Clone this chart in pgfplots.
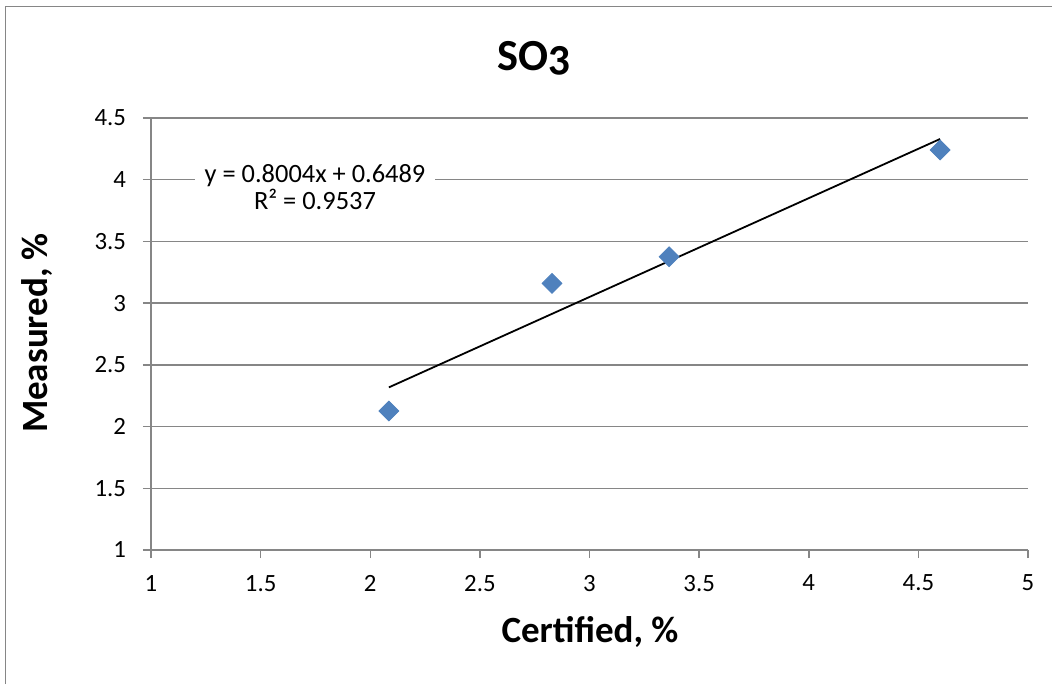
\documentclass[border=0pt]{standalone}
\usepackage{fontspec}
\setmainfont{Carlito}
\usepackage{pgfplots}
\pgfplotsset{compat=1.18}
\definecolor{gridgray}{RGB}{134,134,134}
\definecolor{ptblue}{RGB}{79,129,189}
\begin{document}
\begin{tikzpicture}
\useasboundingbox (-75.5pt,-67pt) rectangle (450.5pt,275pt);
\draw[gridgray, line width=0.75pt] (-72.75pt,-67pt) -- (-72.75pt,271.75pt) -- (450.5pt,271.75pt);
\begin{axis}[
  at={(0pt,0pt)}, anchor=south west,
  scale only axis, width=438.5pt, height=216pt,
  xmin=1, xmax=5, ymin=1, ymax=4.5,
  xtick={1,1.5,2,2.5,3,3.5,4,4.5,5},
  ytick={1,1.5,2,2.5,3,3.5,4,4.5},
  xticklabels={1,1.5,2,2.5,3,3.5,4,4.5,5},
  yticklabels={1,1.5,2,2.5,3,3.5,4,4.5},
  axis x line*=bottom, axis y line*=left,
  ymajorgrids,
  major grid style={gridgray, line width=0.75pt},
  axis line style={gridgray, line width=0.75pt},
  tick style={gridgray, line width=0.75pt},
  tick align=outside, major tick length=4pt,
  ticklabel style={font=\fontsize{12.4}{14}\selectfont, text=black},
  yticklabel style={xshift=-5pt},
  xticklabel style={yshift=-5pt},
  clip=false,
]
\addplot[only marks, mark=square*, mark size=3.5pt, mark options={rotate=45, fill=ptblue, draw=ptblue}]
  coordinates {(2.085,2.126) (2.829,3.160) (3.363,3.376) (4.599,4.241)};
\addplot[black, line width=0.9pt, no marks]
  coordinates {(2.085,2.3177) (4.599,4.3299)};
\node[fill=white, align=center, font=\fontsize{13.2}{13.8}\selectfont, inner xsep=5pt, inner ysep=1pt]
  at (axis cs:1.748,3.94) {y = 0.8004x + 0.6489\\R² = 0.9537};
\end{axis}
\node[font=\fontsize{22.2}{25}\selectfont\bfseries] at (191.5pt,246pt) {SO{\addfontfeatures{Numbers=OldStyle}3}};
\node[font=\fontsize{18.5}{21}\selectfont\bfseries] at (219.5pt,-41pt) {Certified, \%};
\node[rotate=90, font=\fontsize{18.5}{21}\selectfont\bfseries] at (-57pt,108.5pt) {Measured, \%};
\end{tikzpicture}
\end{document}
